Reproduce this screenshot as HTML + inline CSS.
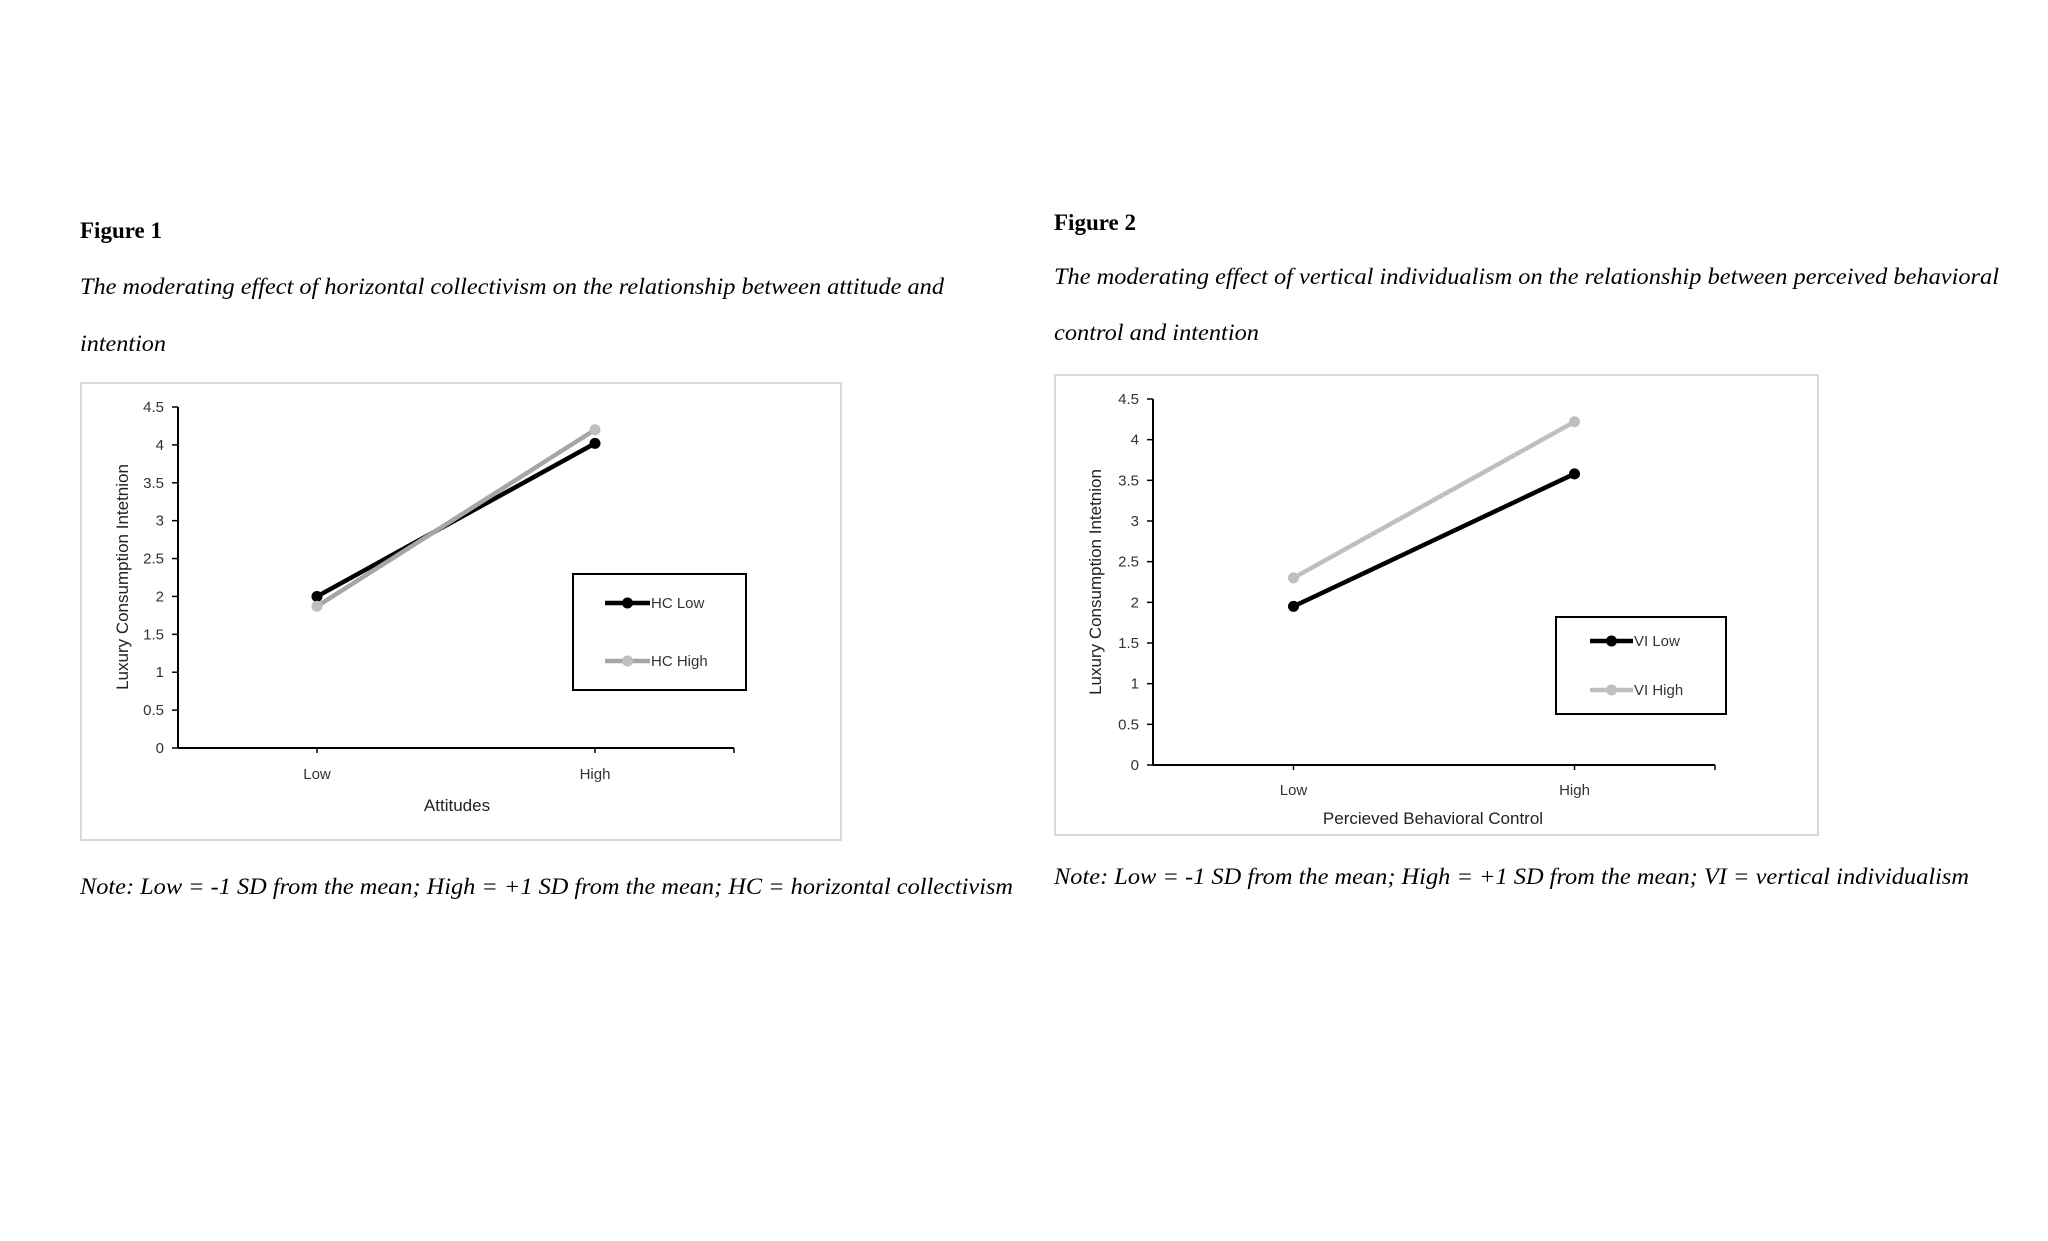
<!DOCTYPE html>
<html><head><meta charset="utf-8"><style>
html,body{margin:0;padding:0;background:#fff;}
svg{display:block;}
.serif{font-family:"Liberation Serif",serif;}
.sans{font-family:"Liberation Sans",sans-serif;}
</style></head><body>
<svg id="page" width="2048" height="1241" viewBox="0 0 2048 1241" xmlns="http://www.w3.org/2000/svg">
<rect width="2048" height="1241" fill="#fff"/>
<text class="serif" x="80" y="238" font-size="23" font-weight="bold">Figure 1</text>
<text class="serif" x="80" y="294" font-size="23" font-style="italic" textLength="864" lengthAdjust="spacingAndGlyphs">The moderating effect of horizontal collectivism on the relationship between attitude and</text>
<text class="serif" x="80" y="351" font-size="23" font-style="italic" textLength="86" lengthAdjust="spacingAndGlyphs">intention</text>
<text class="serif" x="80" y="894" font-size="23" font-style="italic" textLength="933" lengthAdjust="spacingAndGlyphs">Note: Low = -1 SD from the mean; High = +1 SD from the mean; HC = horizontal collectivism</text>

<text class="serif" x="1054" y="230" font-size="23" font-weight="bold">Figure 2</text>
<text class="serif" x="1054" y="284" font-size="23" font-style="italic" textLength="945" lengthAdjust="spacingAndGlyphs">The moderating effect of vertical individualism on the relationship between perceived behavioral</text>
<text class="serif" x="1054" y="340" font-size="23" font-style="italic" textLength="205" lengthAdjust="spacingAndGlyphs">control and intention</text>
<text class="serif" x="1054" y="884" font-size="23" font-style="italic" textLength="915" lengthAdjust="spacingAndGlyphs">Note: Low = -1 SD from the mean; High = +1 SD from the mean; VI = vertical individualism</text>

<g id="chart1"></g>
<g id="chart2"></g>
</svg>
<script>
const categories = ["Low", "High"];
const yTicks = [0, 0.5, 1, 1.5, 2, 2.5, 3, 3.5, 4, 4.5];
const yTickLabels = ["0", "0.5", "1", "1.5", "2", "2.5", "3", "3.5", "4", "4.5"];
const hcLow = [2.0, 4.02];
const hcHigh = [1.87, 4.2];
const viLow = [1.95, 3.58];
const viHigh = [2.3, 4.22];
const chart1Series = ["HC Low", "HC High"];
const chart2Series = ["VI Low", "VI High"];
const chart1XTitle = "Attitudes";
const chart2XTitle = "Percieved Behavioral Control";
const yTitle = "Luxury Consumption Intetnion";

const NS = "http://www.w3.org/2000/svg";
function mk(parent, tag, attrs, text) {
  const el = document.createElementNS(NS, tag);
  for (const k in attrs) el.setAttribute(k, attrs[k]);
  if (text !== undefined) el.textContent = text;
  parent.appendChild(el);
  return el;
}

function drawChart(g, cfg, seriesData, seriesNames, colors, xTitle, prefix) {
  const box = mk(g, "rect", {x: cfg.bx, y: cfg.by, width: cfg.bw, height: cfg.bh, fill: "#fff", stroke: "#d9d9d9", "stroke-width": 2});
  
  
  const yMax = 4.5;
  const yS = v => cfg.y0 - (v / yMax) * (cfg.y0 - cfg.yTop);
  const band = (cfg.xEnd - cfg.x0) / categories.length;
  const xS = i => cfg.x0 + band * (i + 0.5);
  // y axis
  const ya = mk(g, "line", {x1: cfg.x0, y1: yS(0), x2: cfg.x0, y2: yS(yMax), stroke: "#000", "stroke-width": 2});
  
  
  yTicks.forEach((t, i) => {
    const tk = mk(g, "line", {x1: cfg.x0 - 6, y1: yS(t), x2: cfg.x0, y2: yS(t), stroke: "#000", "stroke-width": 1.5});
    
    
    const tl = mk(g, "text", {x: cfg.x0 - 14, y: yS(t) + 5, "text-anchor": "end", "font-size": 15, fill: "#333", class: "sans"}, yTickLabels[i]);
    
    
  });
  // x axis
  const xa = mk(g, "line", {x1: cfg.x0, y1: yS(0), x2: cfg.xEnd, y2: yS(0), stroke: "#000", "stroke-width": 2});
  
  
  [cfg.x0, cfg.x0 + band, cfg.xEnd].forEach(x => {});
  categories.forEach((c, i) => {
    const tk = mk(g, "line", {x1: xS(i), y1: yS(0), x2: xS(i), y2: yS(0) + 5, stroke: "#000", "stroke-width": 1.5});
    
    
    const cl = mk(g, "text", {x: xS(i), y: cfg.catY, "text-anchor": "middle", "font-size": 15, fill: "#333", class: "sans"}, c);
    
    
  });
  const endTick = mk(g, "line", {x1: cfg.xEnd, y1: yS(0), x2: cfg.xEnd, y2: yS(0) + 5, stroke: "#000", "stroke-width": 1.5});
  
  
  const xt = mk(g, "text", {x: cfg.xTitleX, y: cfg.xTitleY, "text-anchor": "middle", "font-size": 17, fill: "#222", class: "sans"}, xTitle);
  
  
  const yt = mk(g, "text", {x: 0, y: 0, "text-anchor": "middle", "font-size": 17, fill: "#222", class: "sans", transform: `translate(${cfg.yTitleX},${cfg.yTitleY}) rotate(-90)`}, yTitle);
  
  
  // series
  seriesData.forEach((data, s) => {
    const pts = data.map((v, i) => xS(i) + "," + yS(v)).join(" ");
    const pl = mk(g, "polyline", {points: pts, fill: "none", stroke: colors[s].line, "stroke-width": 4.5});
    
    
    data.forEach((v, i) => {
      const c = mk(g, "circle", {cx: xS(i), cy: yS(v), r: 5.5, fill: colors[s].marker});
      
      
    });
  });
  // legend
  const lg = mk(g, "rect", {x: cfg.lx, y: cfg.ly, width: cfg.lw, height: cfg.lh, fill: "#fff", stroke: "#000", "stroke-width": 2});
  
  
  seriesNames.forEach((n, s) => {
    const y = cfg.legY[s];
    const ll = mk(g, "line", {x1: cfg.legLineX1, y1: y, x2: cfg.legLineX2, y2: y, stroke: colors[s].line, "stroke-width": 4.5});
    
    
    const lc = mk(g, "circle", {cx: (cfg.legLineX1 + cfg.legLineX2) / 2, cy: y, r: 5.5, fill: colors[s].marker});
    
    
    const lt = mk(g, "text", {x: cfg.legLineX2 + 1, y: y + 5, "font-size": 15, fill: "#333", class: "sans"}, n);
    
    
  });
}

drawChart(document.getElementById("chart1"), {
  bx: 81, by: 383, bw: 760, bh: 457,
  x0: 178, xEnd: 734, y0: 748, yTop: 407, catY: 779,
  xTitleX: 457, xTitleY: 811, yTitleX: 128, yTitleY: 577,
  lx: 573, ly: 574, lw: 173, lh: 116,
  legY: [603, 661], legLineX1: 605, legLineX2: 650
}, [hcLow, hcHigh], chart1Series,
  [{line: "#000", marker: "#000"}, {line: "#a6a6a6", marker: "#bfbfbf"}], chart1XTitle, "chart-1");

drawChart(document.getElementById("chart2"), {
  bx: 1055, by: 375, bw: 763, bh: 460,
  x0: 1153, xEnd: 1715, y0: 765, yTop: 399, catY: 795,
  xTitleX: 1433, xTitleY: 824, yTitleX: 1101, yTitleY: 582,
  lx: 1556, ly: 617, lw: 170, lh: 97,
  legY: [641, 690], legLineX1: 1590, legLineX2: 1633
}, [viLow, viHigh], chart2Series,
  [{line: "#000", marker: "#000"}, {line: "#bfbfbf", marker: "#bfbfbf"}], chart2XTitle, "chart-2");
</script>
</body></html>
